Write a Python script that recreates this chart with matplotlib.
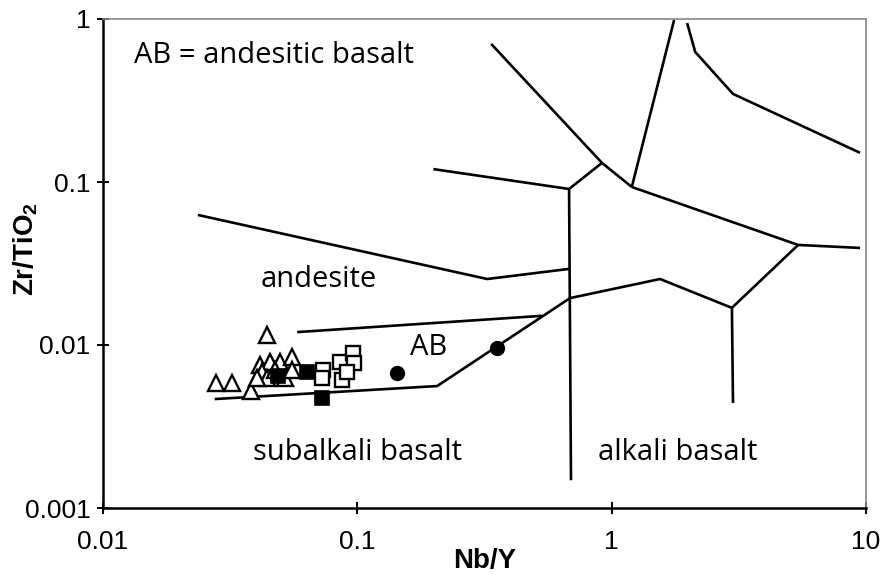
# Winchester & Floyd Zr/TiO2 - Nb/Y 分类图，投点
import matplotlib.pyplot as plt
import numpy as np

# 分区边界线 (Nb/Y, Zr/TiO2)
boundaries = [
    ([0.336, 0.916, 1.20], [0.703, 0.131, 0.0932]),
    ([1.76, 1.20], [0.986, 0.0932]),
    ([1.98, 2.13, 3.0, 9.48], [0.945, 0.628, 0.347, 0.151]),
    ([1.20, 5.41, 9.48], [0.0932, 0.0411, 0.0394]),
    ([0.199, 0.680, 0.916], [0.120, 0.0906, 0.131]),
    ([0.680, 0.692], [0.0906, 0.00148]),
    ([0.0236, 0.324, 0.680], [0.0628, 0.0254, 0.0293]),
    ([0.686, 1.55, 2.97, 5.41], [0.0194, 0.0254, 0.0169, 0.0411]),
    ([2.97, 3.0], [0.0169, 0.00441]),
    ([0.058, 0.532], [0.0120, 0.0151]),
    ([0.0275, 0.206, 0.686], [0.00466, 0.0056, 0.0194]),
]

# 样品数据
tri_x = [0.0278, 0.0321, 0.0382, 0.0442, 0.0414, 0.0454, 0.0422, 0.0442,
         0.0497, 0.0553, 0.0474, 0.0520, 0.0553, 0.0403]
tri_y = [0.00585, 0.00585, 0.00522, 0.0115, 0.00754, 0.00787, 0.00683, 0.00628,
         0.00787, 0.00844, 0.00703, 0.00628, 0.00703, 0.00628]
fsq_x = [0.0634, 0.0726, 0.0488]
fsq_y = [0.00683, 0.00473, 0.00646]
osq_x = [0.0733, 0.0726, 0.0855, 0.0871, 0.0962, 0.0971, 0.0911]
osq_y = [0.00703, 0.00628, 0.00787, 0.00610, 0.00893, 0.00776, 0.00683]
circ_x = [0.143, 0.354]
circ_y = [0.00673, 0.00959]

fig = plt.figure(figsize=(8.82, 5.78), dpi=100)
ax = fig.add_axes([103 / 882, 1 - 508 / 578, (866 - 103) / 882, (508 - 19) / 578])
ax.set_xscale('log')
ax.set_yscale('log')
ax.set_xlim(0.01, 10)
ax.set_ylim(0.001, 1)

for bx, by in boundaries:
    ax.plot(bx, by, color='black', lw=1.9, solid_capstyle='butt', zorder=2)

ax.plot(tri_x, tri_y, ls='none', marker='^', ms=11.5, mfc='white', mec='black', mew=1.7, zorder=3)
ax.plot(fsq_x, fsq_y, ls='none', marker='s', ms=10, mfc='black', mec='black', mew=1.2, zorder=4)
ax.plot(osq_x, osq_y, ls='none', marker='s', ms=10, mfc='white', mec='black', mew=1.7, zorder=4)
ax.plot(circ_x, circ_y, ls='none', marker='o', ms=10, mfc='black', mec='black', zorder=4)

txt = dict(family='Open Sans', fontsize=21, color='black')
ax.text(0.0133, 0.60, 'AB = andesitic basalt', ha='left', va='center', **txt)
ax.text(0.0707, 0.0251, 'andesite', ha='center', va='center', **txt)
ax.text(0.19, 0.0097, 'AB', ha='center', va='center', **txt)
ax.text(0.0999, 0.0022, 'subalkali basalt', ha='center', va='center', **txt)
ax.text(1.81, 0.0022, 'alkali basalt', ha='center', va='center', **txt)

ax.set_xticks([0.01, 0.1, 1, 10])
ax.set_xticklabels(['0.01', '0.1', '1', '10'])
ax.set_yticks([0.001, 0.01, 0.1, 1])
ax.set_yticklabels(['0.001', '0.01', '0.1', '1'])
ax.minorticks_off()
ax.tick_params(direction='inout', length=8, width=1.4, labelsize=19, pad=5)
ax.tick_params(axis='x', pad=12)
for lab in ax.get_xticklabels() + ax.get_yticklabels():
    lab.set_family('Liberation Sans')

ax.set_xlabel('Nb/Y', family='Liberation Sans', fontsize=20, fontweight='bold')
ax.set_ylabel('Zr/TiO$_\\mathregular{2}$', family='Liberation Sans', fontsize=20,
              fontweight='bold')
ax.xaxis.set_label_coords(0.5, -0.082)
ax.yaxis.set_label_coords(-0.083, 0.53)

ax.spines['left'].set_linewidth(1.8)
ax.spines['bottom'].set_linewidth(1.8)
for s in ['top', 'right']:
    ax.spines[s].set_color('#888888')
    ax.spines[s].set_linewidth(1.2)

plt.savefig('out.png', dpi=100)
